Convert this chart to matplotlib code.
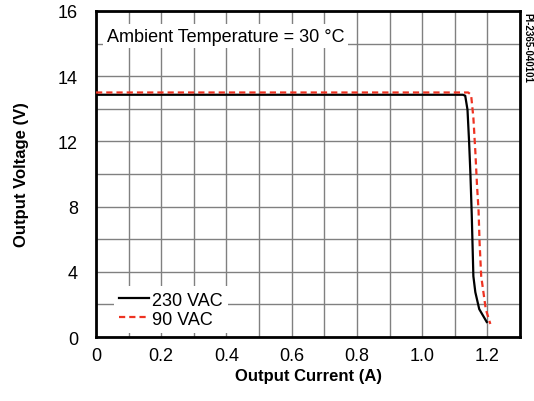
import numpy as np
import matplotlib.pyplot as plt

plt.rcParams['font.family'] = ['Liberation Sans', 'DejaVu Sans']

# output characteristic
current_230 = [0, 1.125, 1.132, 1.139, 1.144, 1.148, 1.152, 1.157, 1.163, 1.175, 1.198]
voltage_230 = [13.43, 13.43, 13.40, 12.97, 11.93, 9.97, 7.52, 3.73, 2.75, 1.71, 0.92]
current_90 = [0, 1.141, 1.150, 1.157, 1.163, 1.168, 1.173, 1.176, 1.181, 1.195, 1.209]
voltage_90 = [13.5, 13.5, 13.43, 12.73, 11.38, 9.36, 7.71, 5.81, 3.73, 1.71, 0.80]

x_ticks = [0, 0.2, 0.4, 0.6, 0.8, 1.0, 1.2]
x_labels = ['0', '0.2', '0.4', '0.6', '0.8', '1.0', '1.2']
y_ticks = [0, 4, 8, 12, 14, 16]
y_minor = [2, 6, 10, 13, 15]

# the datasheet axis is stretched above 12 V
scale_vals = [0, 12, 16]
scale_grid = [0, 6, 10]


def forward(v):
    return np.interp(v, scale_vals, scale_grid)


def inverse(g):
    return np.interp(g, scale_grid, scale_vals)


fig = plt.figure(figsize=(5.34, 4.02), dpi=100)
ax = fig.add_axes([0.1798, 0.1592, 0.794, 0.811])
ax.set_yscale('function', functions=(forward, inverse))

ax.plot(current_230, voltage_230, color='black', lw=1.6, label='230 VAC', zorder=3)
ax.plot(current_90, voltage_90, color='#ee3322', lw=1.6, ls=(0, (2.8, 1.8)),
        label='90 VAC', zorder=4)

ax.set_xlim(0, 1.3)
ax.set_ylim(0, 16)
ax.set_xticks(x_ticks)
ax.set_xticklabels(x_labels)
ax.set_xticks(np.arange(0.1, 1.3, 0.2), minor=True)
ax.set_yticks(y_ticks)
ax.set_yticklabels([str(t) for t in y_ticks])
ax.set_yticks(y_minor, minor=True)
ax.yaxis.set_minor_formatter(plt.NullFormatter())
ax.grid(True, which='both', color='#808080', lw=1)
ax.tick_params(which='both', length=0, labelsize=13)
ax.tick_params(axis='x', pad=7)
ax.tick_params(axis='y', pad=13)
for s in ax.spines.values():
    s.set_linewidth(2)

ax.set_xlabel('Output Current (A)', fontsize=12, fontweight='bold', labelpad=3)
ax.set_ylabel('Output Voltage (V)', fontsize=12, fontweight='bold', labelpad=21)

ax.text(0.026, 0.923, 'Ambient Temperature = 30 \u00b0C', transform=ax.transAxes,
        fontsize=13, va='center', ha='left',
        bbox=dict(boxstyle='square,pad=0.2', fc='white', ec='none'))

leg = ax.legend(loc='lower left', bbox_to_anchor=(0.042, 0.012), borderaxespad=0,
                fontsize=13, handlelength=1.65, handletextpad=0.15, labelspacing=0.12,
                fancybox=False, framealpha=1, edgecolor='none', borderpad=0.3)

fig.text(0.988, 0.968, 'PI-2365-040101', rotation=-90, va='top', ha='center',
         fontsize=7, fontweight='bold')

fig.savefig('out.png', dpi=100)
